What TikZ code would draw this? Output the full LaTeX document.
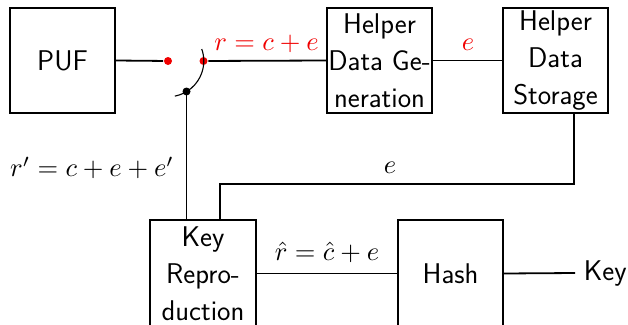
\documentclass[tikz,border=0pt]{standalone}
\usepackage{graphicx}
\usetikzlibrary{calc}
\definecolor{sigred}{RGB}{240,0,0}
\newcommand{\mylblmath}[1]{\scalebox{2.65}{$#1$}}
\begin{document}
\begin{tikzpicture}[x=1pt,y=-1pt,line width=1.8pt,
  blk/.style={draw,line width=1.8pt,minimum width=105pt,minimum height=105pt,inner sep=0pt,align=center,
    font=\fontsize{28.5}{37}\selectfont\sffamily},
  lbl/.style={inner sep=0pt},
  rdot/.style={circle,fill=sigred,inner sep=0pt,minimum size=8pt},
  bdot/.style={circle,fill=black,inner sep=0pt,minimum size=8pt}]
\useasboundingbox (0,0) rectangle (628,324);
\node[blk] (puf) at (62.5,60.5) {PUF};
\node[blk] (hdg) at (379.5,60.5) {Helper\\Data Ge-\\neration};
\node[blk] (hds) at (555.5,60.5) {Helper\\Data\\Storage};
\node[blk,minimum width=106pt,minimum height=107pt] (kr) at (203,273.5) {Key\\Repro-\\duction};
\node[blk,minimum height=107pt] (hash) at (450.5,273.5) {Hash};
\node[rdot] (d1) at (168,61) {};
\node[rdot] (d2) at (203.5,61) {};
\node[bdot] (sw) at (186.5,91.5) {};
\coordinate (kout) at (575,273);
\node[anchor=west,inner sep=0pt,font=\fontsize{28.5}{37}\selectfont\sffamily] (key) at (583,273) {Key};
% connectors
\draw (puf.east) -- (d1);
\draw (d2) -- (hdg.west);
\draw (hdg.east) -- (hds.west);
\draw ([xshift=18.5pt]hds.south) |- (220,184) -- ([xshift=17pt]kr.north);
\draw (sw.center) -- ([xshift=-16.5pt]kr.north);
\draw (kr.east) -- (hash.west);
\draw (hash.east) -- (kout);
% switch arc
\draw[line width=1.1pt] (d1.center) ++(79:35.8) arc[start angle=79,end angle=-19.5,radius=35.8];
% labels
\node[lbl,text=sigred] (l1) at (266.5,44) {\mylblmath{r=c+e}};
\node[lbl,text=sigred] (l2) at (468,45) {\mylblmath{e}};
\node[lbl] (l3) at (92,168) {\mylblmath{r'=c+e+e'}};
\node[lbl] (l4) at (390,168) {\mylblmath{e}};
\node[lbl] (l5) at (327,252) {\mylblmath{\hat r=\hat c+e}};
\end{tikzpicture}
\end{document}
